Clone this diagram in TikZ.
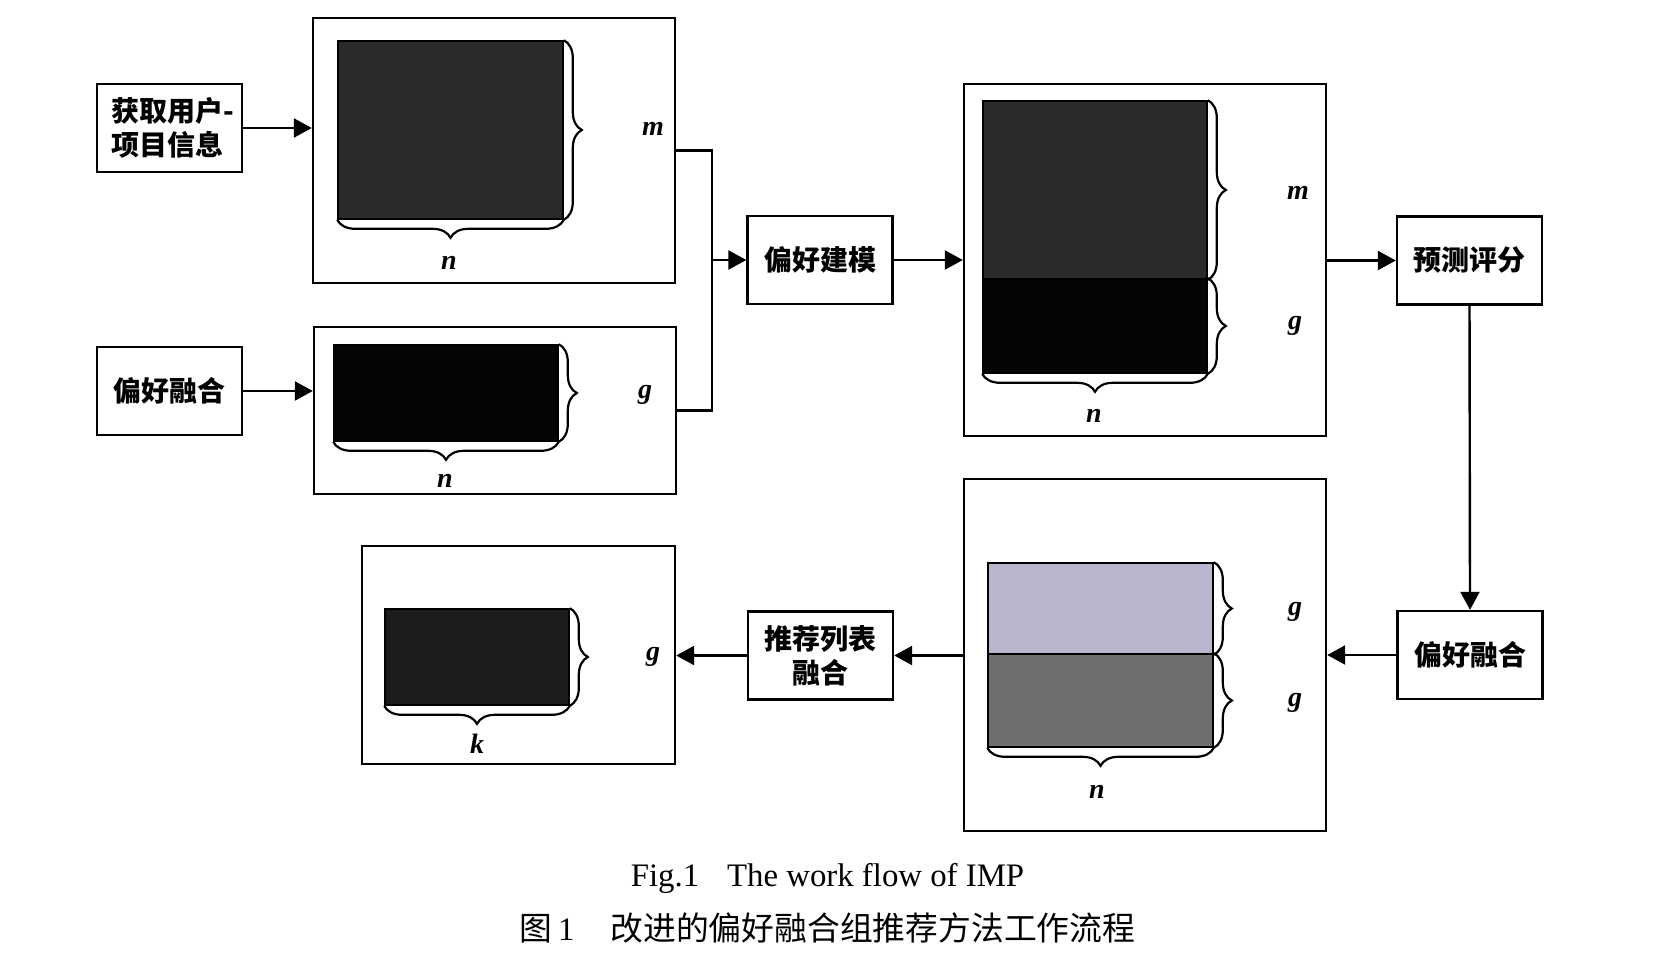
\documentclass[tikz,border=0pt]{standalone}
\usepackage{fontspec}
\setmainfont{Liberation Serif}
\newfontfamily\cjk{Noto Sans CJK SC}
\usetikzlibrary{arrows.meta,decorations.pathreplacing}
\definecolor{darkfill}{HTML}{2A2A2A}
\definecolor{blackfill}{HTML}{050505}
\definecolor{lavfill}{HTML}{B8B6CC}
\definecolor{grayfill}{HTML}{6E6E6E}
\definecolor{jfill}{HTML}{1C1C1C}
\begin{document}
\begin{tikzpicture}[x=0.5pt,y=-0.5pt,
  proc/.style={draw,line width=1.2pt,inner sep=0pt,font=\cjk\bfseries\fontsize{14}{17}\selectfont,minimum width=72.5pt,minimum height=44pt},
  panel/.style={draw,line width=1.2pt,inner sep=0pt},
  mat/.style={draw,line width=0.8pt,inner sep=0pt},
  lbl/.style={font=\bfseries\itshape\fontsize{14}{16}\selectfont,inner sep=0pt},
  br/.style={decorate,decoration={brace,amplitude=9pt},line width=1.1pt},
  arr/.style={-{Triangle[length=9pt,width=9.5pt]},line width=1.2pt},
  conn/.style={line width=1.2pt}]
\useasboundingbox[fill=white] (0,0) rectangle (1674,968);

% process boxes
\node[proc,align=left] (A) at (169.5,128) {\hspace*{3pt}获取用户-\\\hspace*{3pt}项目信息};
\node[proc] (C) at (169.5,391) {偏好融合};
\node[proc] (D) at (820,260) {偏好建模};
\node[proc] (F) at (1469.5,260.5) {预测评分};
\node[proc] (G) at (1470,655) {偏好融合};
\node[proc,align=center] (I) at (820.5,655.5) {推荐列表\\融合};

% panels
\node[panel,minimum width=181pt,minimum height=132.5pt] (B1) at (494,150.5) {};
\node[panel,minimum width=181pt,minimum height=83.5pt] (B2) at (495,410.5) {};
\node[panel,minimum width=181pt,minimum height=176pt] (E) at (1145,260) {};
\node[panel,minimum width=181pt,minimum height=176pt] (H) at (1145,655) {};
\node[panel,minimum width=156.5pt,minimum height=109pt] (J) at (518.5,655) {};

% matrices
\node[mat,fill=darkfill,minimum width=112.5pt,minimum height=89pt] (B1in) at (450.5,130) {};
\node[mat,fill=blackfill,minimum width=112pt,minimum height=48pt] (B2in) at (446,393) {};
\node[mat,fill=darkfill,minimum width=112pt,minimum height=89pt] (Et) at (1095,190) {};
\node[mat,fill=blackfill,minimum width=112pt,minimum height=47pt] (Eb) at (1095,326) {};
\node[mat,fill=lavfill,minimum width=112.5pt,minimum height=45.5pt] (Ht) at (1100.5,608.5) {};
\node[mat,fill=grayfill,minimum width=112.5pt,minimum height=46.5pt] (Hb) at (1100.5,700.5) {};
\node[mat,fill=jfill,minimum width=92pt,minimum height=48pt] (Jin) at (477,657) {};

% braces
\draw[br] (B1in.north east) -- (B1in.south east);
\draw[br] (B1in.south east) -- (B1in.south west);
\draw[br] (B2in.north east) -- (B2in.south east);
\draw[br] (B2in.south east) -- (B2in.south west);
\draw[br] (Et.north east) -- (Et.south east);
\draw[br] (Eb.north east) -- (Eb.south east);
\draw[br] (Eb.south east) -- (Eb.south west);
\draw[br] (Ht.north east) -- (Ht.south east);
\draw[br] (Hb.north east) -- (Hb.south east);
\draw[br] (Hb.south east) -- (Hb.south west);
\draw[br] (Jin.north east) -- (Jin.south east);
\draw[br] (Jin.south east) -- (Jin.south west);

% labels
\node[lbl] (lm1) at (653,129) {m};
\node[lbl] (ln1) at (449,263) {n};
\node[lbl] (lg2) at (645,395) {g};
\node[lbl] (ln2) at (445,481) {n};
\node[lbl] (lmE) at (1298,193) {m};
\node[lbl] (lgE) at (1295,326) {g};
\node[lbl] (lnE) at (1094,416) {n};
\node[lbl] (lgH1) at (1295,612) {g};
\node[lbl] (lgH2) at (1295,703) {g};
\node[lbl] (lnH) at (1097,792) {n};
\node[lbl] (lgJ) at (653,657) {g};
\node[lbl] (lkJ) at (477,744) {k};

% connectors
\coordinate (jx) at (712,260);
\draw[arr] (A.east) -- (A.east -| B1.west);
\draw[arr] (C.east) -- (C.east -| B2.west);
\draw[conn] (B1.east) -- (B1.east -| jx) -- (B2.east -| jx) -- (B2.east);
\draw[arr] (jx |- D.west) -- (D.west);
\draw[arr] (D.east) -- (D.east -| E.west);
\draw[arr] (E.east |- F.west) -- (F.west);
\draw[arr] (F.south) -- (G.north);
\draw[arr] (G.west) -- (G.west -| H.east);
\draw[arr] (H.west |- I.east) -- (I.east);
\draw[arr] (I.west) -- (I.west -| J.east);

% caption
\node[font=\fontsize{16.4}{19}\selectfont,inner sep=0pt] (cap1) at (827.5,878) {Fig.1\hspace{14pt}The work flow of IMP};
\node[font=\fontsize{16.4}{19}\selectfont,inner sep=0pt] (cap2) at (827.5,928) {{\cjk 图}\,1\hspace{18pt}{\cjk 改进的偏好融合组推荐方法工作流程}};
\end{tikzpicture}
\end{document}
